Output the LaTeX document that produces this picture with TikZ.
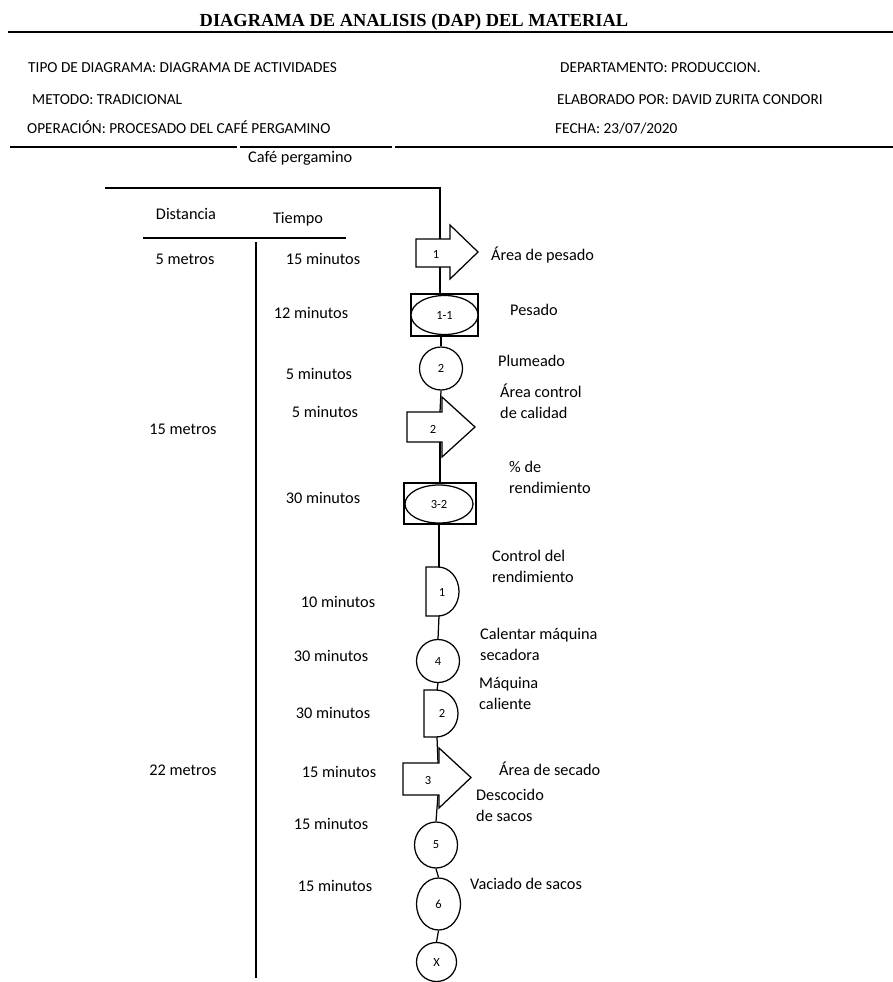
\documentclass[tikz,border=0pt]{standalone}
\usepackage{fontspec}
\setmainfont{Carlito}
\newfontfamily\titlefont{Liberation Serif}
\usetikzlibrary{shapes.geometric}
\begin{document}
\begin{tikzpicture}[x=1pt,y=-1pt,
  hdr/.style={font=\fontsize{15.3}{18}\selectfont, anchor=base west, inner sep=0},
  txt/.style={font=\fontsize{16.3}{21}\selectfont, inner sep=0, anchor=base},
  lbl/.style={font=\fontsize{16.3}{21}\selectfont, inner sep=0, anchor=base west, align=left},
  num/.style={font=\fontsize{12.5}{14}\selectfont, inner sep=0},
  sym/.style={draw, line width=1.25pt, fill=white},
  circ/.style={sym, ellipse, inner sep=0, font=\fontsize{12.5}{14}\selectfont},
  box/.style={sym, rectangle, inner sep=0},
  flow/.style={line width=1.25pt}]
\useasboundingbox (0,0) rectangle (893,982);

% title and header
\node[font=\titlefont\bfseries\fontsize{18.4}{22}\selectfont, inner sep=0, anchor=base] (title) at (414,27) {DIAGRAMA DE ANALISIS (DAP) DEL MATERIAL};
\coordinate (tl1) at (8,32); \coordinate (tl2) at (893,32);
\draw[line width=1.8pt] (tl1) -- (tl2);

\node[hdr] (tipo) at (28,72) {TIPO DE DIAGRAMA: DIAGRAMA DE ACTIVIDADES};
\node[hdr] (metodo) at (32,104) {METODO: TRADICIONAL};
\node[hdr] (oper) at (27,133) {OPERACIÓN: PROCESADO DEL CAFÉ PERGAMINO};
\node[hdr] (depto) at (560,72) {DEPARTAMENTO: PRODUCCION.};
\node[hdr] (elab) at (557,104) {ELABORADO POR: DAVID ZURITA CONDORI};
\node[hdr] (fecha) at (555,133) {FECHA: 23/07/2020};

\coordinate (hl1) at (10,147); \coordinate (hl2) at (237,147);
\coordinate (hl3) at (240,147); \coordinate (hl4) at (392,147);
\coordinate (hl5) at (395,147); \coordinate (hl6) at (893,147);
\draw[line width=1.6pt] (hl1) -- (hl2) (hl3) -- (hl4) (hl5) -- (hl6);

\node[lbl] (cafe) at (248,162) {Café pergamino};

% left table
\node[txt] (dist) at (186,219) {Distancia};
\node[txt] (tiempo) at (298,223) {Tiempo};
\coordinate (th1) at (143,238); \coordinate (th2) at (346,238);
\draw[flow] (th1) -- (th2);
\coordinate (tv1) at (256,242); \coordinate (tv2) at (256,978);
\draw[flow] (tv1) -- (tv2);

\node[txt] (d1) at (185,264) {5 metros};
\node[txt] (d2) at (183,434) {15 metros};
\node[txt] (d3) at (183,775) {22 metros};

\node[txt] (m1) at (323,264) {15 minutos};
\node[txt] (m2) at (311,318) {12 minutos};
\node[txt] (m3) at (319,379) {5 minutos};
\node[txt] (m4) at (325,417) {5 minutos};
\node[txt] (m5) at (323,503) {30 minutos};
\node[txt] (m6) at (338,607) {10 minutos};
\node[txt] (m7) at (331,661) {30 minutos};
\node[txt] (m8) at (333,718) {30 minutos};
\node[txt] (m9) at (339,777) {15 minutos};
\node[txt] (m10) at (331,829) {15 minutos};
\node[txt] (m11) at (335,891) {15 minutos};

% flow coordinates
\coordinate (start) at (105,188);
\coordinate (corner) at (440,188);
\coordinate (t1top) at (440,239); \coordinate (t1bot) at (440,267);
\coordinate (t2top) at (440,412); \coordinate (t2bot) at (440,442);
\coordinate (d1top) at (439,567); \coordinate (d1bot) at (439,616);
\coordinate (d2top) at (437,690); \coordinate (d2bot) at (437,737);
\coordinate (t3top) at (438,763); \coordinate (t3bot) at (438,795);

% symbols
\node[box, minimum width=67pt, minimum height=42pt] (oi1) at (444.5,315) {};
\node[circ, minimum width=67pt, minimum height=39pt] (e11) at (444.5,315) {1-1};
\node[circ, minimum width=43pt, minimum height=43pt] (c2) at (441,368.5) {2};
\node[box, minimum width=72pt, minimum height=41pt] (oi2) at (440,503.5) {};
\node[circ, minimum width=68pt, minimum height=38pt] (e32) at (439,504) {3-2};
\node[circ, minimum width=43pt, minimum height=43pt] (c4) at (438,661) {4};
\node[circ, minimum width=43pt, minimum height=46pt] (c5) at (436,845) {5};
\node[circ, minimum width=44pt, minimum height=52pt] (c6) at (438.5,904) {6};
\node[circ, minimum width=40pt, minimum height=39pt] (cx) at (436.5,962) {X};

% connectors
\draw[flow] (start) -- (corner) -- (t1top);
\draw[flow] (t1bot) -- (t1bot |- oi1.north);
\draw[flow] (oi1.south -| c2.north) -- (c2.north);
\draw[flow] (c2.south) -- (t2top);
\draw[flow] (t2bot) -- (t2bot |- oi2.north);
\draw[flow] (oi2.south -| d1top) -- (d1top);
\draw[flow] (d1bot) -- (c4.north);
\draw[flow] (c4.south) -- (d2top);
\draw[flow] (d2bot) -- (t3top);
\draw[flow] (t3bot) -- (c5.north);
\draw[flow] (c5.south) -- (c6.north);
\draw[flow] (c6.south) -- (cx.north);

% transport arrows
\draw[sym] (416,239) -- (450,239) -- (450,225) -- (478,252) -- (450,279) -- (450,267) -- (416,267) -- cycle;
\node[num] (a1) at (436,254) {1};
\draw[sym] (407,412) -- (442,412) -- (442,397) -- (475,427) -- (442,457) -- (442,442) -- (407,442) -- cycle;
\node[num] (a2) at (433,429) {2};
\draw[sym] (403,763) -- (439,763) -- (439,748) -- (471,777.5) -- (439,808) -- (439,795) -- (403,795) -- cycle;
\node[num] (a3) at (428,780) {3};

% delays
\draw[sym] (426,567) -- (438,567) arc[start angle=90, end angle=-90, x radius=21pt, y radius=24.5pt] -- (426,616) -- cycle;
\node[num] (dl1) at (442,592) {1};
\draw[sym] (424,690) -- (436,690) arc[start angle=90, end angle=-90, x radius=22pt, y radius=23.5pt] -- (424,737) -- cycle;
\node[num] (dl2) at (442,713) {2};

% right labels
\node[lbl] (l1) at (491,260) {Área de pesado};
\node[lbl] (l2) at (510,315) {Pesado};
\node[lbl] (l3) at (498,366) {Plumeado};
\node[lbl] (l4) at (500,418) {Área control\\de calidad};
\node[lbl] (l5) at (509,493) {\% de\\rendimiento};
\node[lbl] (l6) at (492,582) {Control del\\rendimiento};
\node[lbl] (l7) at (480,660) {Calentar máquina\\secadora};
\node[lbl] (l8) at (479,709) {Máquina\\caliente};
\node[lbl] (l9) at (499,775) {Área de secado};
\node[lbl] (l10) at (476,821) {Descocido\\de sacos};
\node[lbl] (l11) at (470,889) {Vaciado de sacos};
\end{tikzpicture}
\end{document}
